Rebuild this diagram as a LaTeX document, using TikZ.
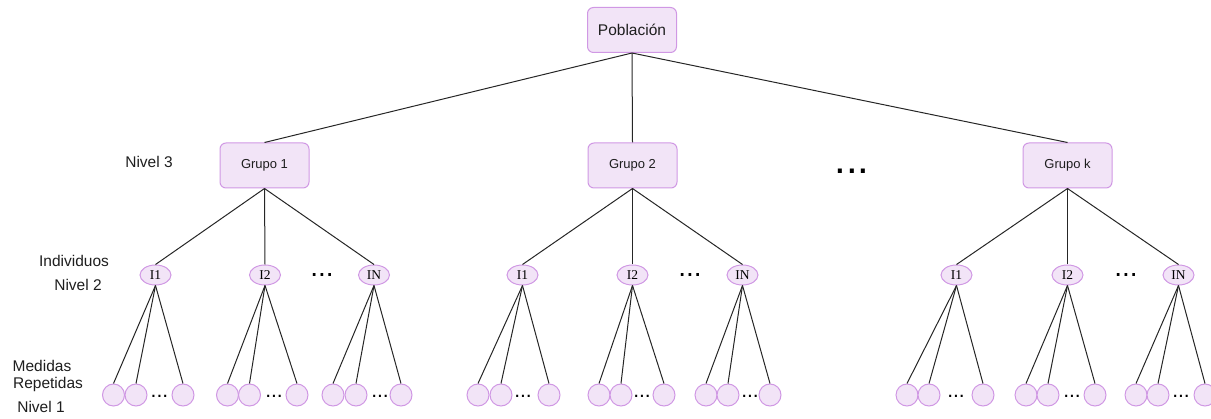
\documentclass[tikz,border=0pt]{standalone}
\usepackage{fontspec}
\setmainfont{Liberation Sans}
\newfontfamily\serifI{Liberation Serif}
\usetikzlibrary{shapes.geometric}
\definecolor{pfill}{RGB}{242,228,247}
\definecolor{pline}{RGB}{208,152,228}
\definecolor{txt}{RGB}{30,30,30}
\tikzset{
  boxnode/.style={draw=pline,fill=pfill,line width=1pt,rounded corners=6pt,minimum width=89pt,minimum height=45pt,inner sep=0pt,text=txt},
  indnode/.style={ellipse,draw=pline,fill=pfill,line width=1pt,minimum width=31pt,minimum height=20pt,inner sep=0pt,font=\serifI\fontsize{13.5}{13.5}\selectfont},
  leafnode/.style={circle,draw=pline,fill=pfill,line width=1pt,minimum size=22pt,inner sep=0pt},
  lbl/.style={font=\fontsize{15.5}{18}\selectfont,text=txt,inner sep=0pt},
  conn/.style={draw=black!85,line width=1pt},
  bigdots/.style={anchor=base,inner sep=0pt,font=\fontsize{42}{42}\selectfont},
  middots/.style={anchor=base,inner sep=0pt,font=\fontsize{28}{28}\selectfont},
  smalldots/.style={anchor=base,inner sep=0pt,font=\fontsize{21}{21}\selectfont}
}
\begin{document}
\begin{tikzpicture}[x=1pt,y=-1pt]
\useasboundingbox (0,0) rectangle (1211,419);
% top
\node[boxnode,font=\fontsize{15.5}{18}\selectfont] (pob) at (632,30) {Población};
\node[boxnode,font=\fontsize{13}{15}\selectfont] (g1) at (264.5,165.5) {Grupo 1};
\node[boxnode,font=\fontsize{13}{15}\selectfont] (g2) at (632.5,165.5) {Grupo 2};
\node[boxnode,font=\fontsize{13}{15}\selectfont] (gk) at (1067.5,165.5) {Grupo k};
\node[bigdots] (gdots) at (852,174) {...};
% labels
\node[lbl] (l3) at (149,162) {Nivel 3};
\node[lbl] (lind) at (74,261) {Individuos};
\node[lbl] (l2) at (78,285) {Nivel 2};
\node[lbl] (lmed) at (42,366) {Medidas};
\node[lbl] (lrep) at (48,384) {Repetidas};
\node[lbl] (l1) at (41,407) {Nivel 1};
% individuals
\foreach \g/\a/\b/\c/\d in {g1/155.5/265/374/322, g2/522.5/632.5/742.5/690, gk/956.5/1067.5/1178.5/1126}{
  \node[indnode] (\g i1) at (\a,275) {I1};
  \node[indnode] (\g i2) at (\b,275) {I2};
  \node[indnode] (\g iN) at (\c,275) {IN};
  \node[middots] (\g idots) at (\d,276.5) {...};
  \draw[conn] (\g.south) -- (\g i1.north);
  \draw[conn] (\g.south) -- (\g i2.north);
  \draw[conn] (\g.south) -- (\g iN.north);
}
\draw[conn] (pob.south) -- (g1.north);
\draw[conn] (pob.south) -- (g2.north);
\draw[conn] (pob.south) -- (gk.north);
% leaves
\foreach \i/\a/\b/\c/\d in {g1i1/113.5/136/183/159.5, g1i2/227.5/249.5/297/274, g1iN/333/356/401/380,
  g2i1/478/501/549/523, g2i2/599/621/664/642, g2iN/706/728/770/750,
  gki1/907/929/983/956, gki2/1026/1048/1095/1072, gkiN/1136/1158/1205/1181}{
  \node[leafnode] (\i a) at (\a,395) {};
  \node[leafnode] (\i b) at (\b,395) {};
  \node[leafnode] (\i c) at (\c,395) {};
  \node[smalldots] (\i dots) at (\d,397.5) {...};
  \draw[conn] (\i.south) -- (\i a.north);
  \draw[conn] (\i.south) -- (\i b.north);
  \draw[conn] (\i.south) -- (\i c.north);
}
\end{tikzpicture}
\end{document}
